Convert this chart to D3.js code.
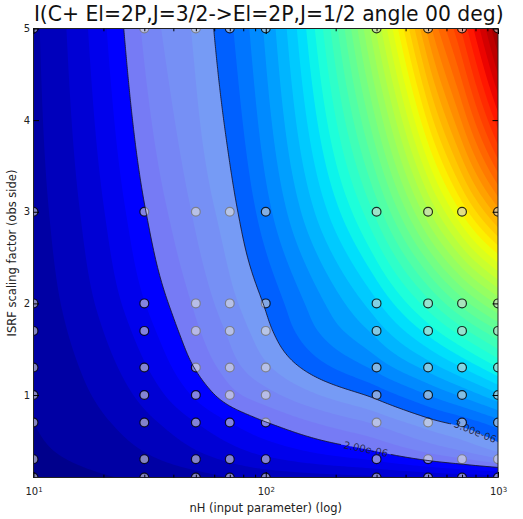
<!DOCTYPE html>
<html>
<head>
<meta charset="utf-8">
<script src="https://cdn.jsdelivr.net/npm/d3@7"></script>
<style>
body { margin: 0; background: #fff; }
text { font-family: "DejaVu Sans", sans-serif; }
</style>
</head>
<body>
<script>
/* sample grid of the model runs */
var nH = [10, 30, 50, 70, 100, 300, 500, 700, 1000];
var scaling = [0.1, 0.3, 0.7, 1, 1.3, 1.7, 2, 3, 5];

/* line intensity (units of 1e-6), one row per scaling value, nH left to right */
var row01 = [0.65, 0.80, 0.90, 1.00, 1.08, 1.20, 1.27, 1.32, 1.35];
var row03 = [0.70, 0.95, 1.15, 1.30, 1.45, 1.80, 2.05, 2.22, 2.46];
var row07 = [0.75, 1.17, 1.50, 1.75, 1.99, 2.55, 2.90, 3.10, 3.40];
var row10 = [0.78, 1.33, 1.80, 2.15, 2.40, 3.08, 3.50, 3.80, 4.20];
var row13 = [0.80, 1.47, 2.02, 2.38, 2.70, 3.58, 4.10, 4.50, 5.00];
var row17 = [0.83, 1.63, 2.20, 2.55, 2.92, 4.10, 4.85, 5.40, 6.00];
var row20 = [0.85, 1.74, 2.30, 2.66, 3.03, 4.45, 5.40, 6.10, 6.80];
var row30 = [0.90, 1.98, 2.55, 2.90, 3.40, 5.60, 7.20, 8.30, 9.40];
var row50 = [0.95, 2.30, 2.80, 3.20, 3.80, 7.30, 9.60, 10.80, 12.30];

/* highlighted band and its labelled contour lines */
var bandLevels = [2, 3];
var bandLabels = ["2.00e-06", "3.00e-06"];

var xMajor = [10, 100, 1000];
var xMinor = [20, 30, 40, 50, 60, 70, 80, 90, 200, 300, 400, 500, 600, 700, 800, 900];
var yMajor = [1, 2, 3, 4, 5];

var rows = [row01, row03, row07, row10, row13, row17, row20, row30, row50];

/* layout */
var width = 523, height = 519;
var pLeft = 33.5, pRight = 498, pTop = 28.5, pBottom = 477.5;

var svg = d3.select("body").append("svg")
    .attr("width", width)
    .attr("height", height);

var x = d3.scaleLog().domain([10, 1000]).range([pLeft, pRight]);
var y = d3.scaleLinear().domain([0.1, 5]).range([pBottom, pTop]);

/* matplotlib jet colormap */
var jetR = d3.scaleLinear().domain([0, 0.35, 0.66, 0.89, 1]).range([0, 0, 1, 1, 0.5]).clamp(true);
var jetG = d3.scaleLinear().domain([0, 0.125, 0.375, 0.64, 0.91, 1]).range([0, 0, 1, 1, 0, 0]).clamp(true);
var jetB = d3.scaleLinear().domain([0, 0.11, 0.34, 0.65, 1]).range([0.5, 1, 1, 0, 0]).clamp(true);
function jet(t) { return d3.rgb(jetR(t) * 255, jetG(t) * 255, jetB(t) * 255) + ""; }

var step = 0.25, lo = 0.5, hi = 12.5;
var levels = d3.range(lo, hi - step / 2, step);

/* smooth (monotone cubic) resampling of the grid for the contour surface */
function monotoneSlopes(xs, ys) {
    var n = xs.length, h = [], s = [], m = new Array(n);
    for (var k = 0; k < n - 1; k++) { h[k] = xs[k + 1] - xs[k]; s[k] = (ys[k + 1] - ys[k]) / h[k]; }
    for (var k = 1; k < n - 1; k++) {
        var p = (s[k - 1] * h[k] + s[k] * h[k - 1]) / (h[k - 1] + h[k]);
        m[k] = (Math.sign(s[k - 1]) + Math.sign(s[k])) *
            Math.min(Math.abs(s[k - 1]), Math.abs(s[k]), 0.5 * Math.abs(p)) || 0;
    }
    m[0] = (3 * s[0] - m[1]) / 2;
    m[n - 1] = (3 * s[n - 2] - m[n - 2]) / 2;
    return m;
}
function hermite(xs, ys, m, xv) {
    var k = Math.max(0, Math.min(xs.length - 2, d3.bisectRight(xs, xv) - 1));
    var h = xs[k + 1] - xs[k], t = (xv - xs[k]) / h, t2 = t * t, t3 = t2 * t;
    return (2 * t3 - 3 * t2 + 1) * ys[k] + (t3 - 2 * t2 + t) * h * m[k] +
        (-2 * t3 + 3 * t2) * ys[k + 1] + (t3 - t2) * h * m[k + 1];
}

var W = 233, H = 226;
var fx = d3.scaleLinear().domain([0, W - 1]).range([pLeft, pRight]);
var fy = d3.scaleLinear().domain([0, H - 1]).range([pTop, pBottom]);
var colN = d3.range(W).map(function(i) { return x.invert(fx(i)); });
var rowS = d3.range(H).map(function(j) { return y.invert(fy(j)); });
var alongN = rows.map(function(r) {
    var m = monotoneSlopes(nH, r);
    return colN.map(function(n) { return hermite(nH, r, m, n); });
});
var field = new Array(W * H);
for (var i = 0; i < W; i++) {
    var col = alongN.map(function(r) { return r[i]; });
    var mc = monotoneSlopes(scaling, col);
    for (var j = 0; j < H; j++) field[j * W + i] = hermite(scaling, col, mc, rowS[j]);
}

/* contour coordinates (sample i at i + 0.5) -> pixels */
var cx = d3.scaleLinear().domain([0.5, W - 0.5]).range([pLeft, pRight]).clamp(true);
var cy = d3.scaleLinear().domain([0.5, H - 0.5]).range([pTop, pBottom]).clamp(true);
function toPixel(c) { return [cx(c[0]), cy(c[1])]; }
function fmt(p) { return p[0].toFixed(2) + "," + p[1].toFixed(2); }
function ringPath(ring) { return "M" + ring.map(function(c) { return fmt(toPixel(c)); }).join("L") + "Z"; }
function multiPath(coords) {
    return coords.map(function(poly) { return poly.map(ringPath).join(""); }).join("");
}

var contours = d3.contours().size([W, H]);

/* clip everything inside the axes */
var defs = svg.append("defs");
defs.append("clipPath").attr("id", "plotclip")
    .append("rect")
    .attr("x", pLeft).attr("y", pTop)
    .attr("width", pRight - pLeft).attr("height", pBottom - pTop);

var plot = svg.append("g").attr("clip-path", "url(#plotclip)");

/* filled contours */
plot.append("g")
    .selectAll("path")
    .data(contours.thresholds(levels)(field))
    .join("path")
    .attr("d", function(d) { return multiPath(d.coordinates); })
    .attr("fill", function(d) { return jet((d.value + step / 2 - lo) / (hi - lo)); });

/* sample points */
plot.append("g")
    .selectAll("circle")
    .data(d3.cross(nH, scaling))
    .join("circle")
    .attr("cx", function(d) { return x(d[0]); })
    .attr("cy", function(d) { return y(d[1]); })
    .attr("r", 4.4)
    .attr("fill", "#d4d4d4")
    .attr("fill-opacity", 0.62)
    .attr("stroke", "#000")
    .attr("stroke-opacity", 0.8)
    .attr("stroke-width", 1.2);

/* translucent band between the two levels */
var bandGeo = contours.thresholds(bandLevels)(field);
plot.append("path")
    .attr("d", multiPath(bandGeo[0].coordinates) + multiPath(bandGeo[1].coordinates))
    .attr("fill-rule", "evenodd")
    .attr("fill", "#ececec")
    .attr("fill-opacity", 0.5);

/* contour lines, border pieces dropped */
function isBorder(p, q) {
    var e = 0.05;
    return (Math.abs(p[0] - pLeft) < e && Math.abs(q[0] - pLeft) < e) ||
        (Math.abs(p[0] - pRight) < e && Math.abs(q[0] - pRight) < e) ||
        (Math.abs(p[1] - pTop) < e && Math.abs(q[1] - pTop) < e) ||
        (Math.abs(p[1] - pBottom) < e && Math.abs(q[1] - pBottom) < e);
}
function contourLines(geo) {
    var lines = [];
    geo.coordinates.forEach(function(poly) {
        poly.forEach(function(ring) {
            var pts = ring.map(toPixel);
            var m = pts.length;
            if (m > 1 && ring[0][0] === ring[m - 1][0] && ring[0][1] === ring[m - 1][1]) m--;
            var start = 0;
            for (var i = 0; i < m; i++) {
                if (isBorder(pts[i], pts[(i + 1) % m])) { start = (i + 1) % m; break; }
            }
            var cur = [pts[start]];
            for (var k = 0; k < m; k++) {
                var a = pts[(start + k) % m], b = pts[(start + k + 1) % m];
                if (isBorder(a, b)) {
                    if (cur.length > 1) lines.push(cur);
                    cur = [b];
                } else {
                    cur.push(b);
                }
            }
            if (cur.length > 1) lines.push(cur);
        });
    });
    return lines;
}
function placeLabel(lines, tx) {
    var best = null;
    lines.forEach(function(line) {
        line.forEach(function(p, i) {
            var d = Math.abs(p[0] - tx);
            if (!best || d < best.d) best = { d: d, line: line, i: i };
        });
    });
    var line = best.line, i = best.i;
    var a = line[Math.max(0, i - 6)], b = line[Math.min(line.length - 1, i + 6)];
    var ang = Math.atan2(b[1] - a[1], b[0] - a[0]) * 180 / Math.PI;
    if (ang > 90) ang -= 180;
    if (ang < -90) ang += 180;
    return { x: line[i][0], y: line[i][1], angle: ang };
}

var labelTargets = [366, 475];
var mask = defs.append("mask").attr("id", "lblmask")
    .attr("maskUnits", "userSpaceOnUse")
    .attr("x", 0).attr("y", 0).attr("width", width).attr("height", height);
mask.append("rect").attr("x", 0).attr("y", 0).attr("width", width).attr("height", height).attr("fill", "#fff");

var lineGroup = plot.append("g").attr("mask", "url(#lblmask)");
var labelGroup = plot.append("g");

bandGeo.forEach(function(geo, k) {
    var lines = contourLines(geo);
    lineGroup.selectAll(null)
        .data(lines)
        .enter()
        .append("path")
        .attr("d", function(l) { return "M" + l.map(fmt).join("L"); })
        .attr("fill", "none")
        .attr("stroke", "#15152a")
        .attr("stroke-opacity", 0.85)
        .attr("stroke-width", 1);

    var pos = placeLabel(lines, labelTargets[k]);
    var lbl = labelGroup.append("text")
        .attr("transform", "translate(" + pos.x + "," + pos.y + ") rotate(" + pos.angle + ")")
        .attr("text-anchor", "middle")
        .attr("dy", "0.35em")
        .attr("font-size", "10px")
        .attr("fill", "#1c1c34")
        .attr("fill-opacity", 0.9)
        .text(bandLabels[k]);
    var w = lbl.node().getComputedTextLength() + 6;
    mask.append("rect")
        .attr("transform", "translate(" + pos.x + "," + pos.y + ") rotate(" + pos.angle + ")")
        .attr("x", -w / 2).attr("y", -6)
        .attr("width", w).attr("height", 12)
        .attr("fill", "#000");
});

/* axes frame */
svg.append("rect")
    .attr("x", pLeft).attr("y", pTop)
    .attr("width", pRight - pLeft).attr("height", pBottom - pTop)
    .attr("fill", "none")
    .attr("stroke", "#222")
    .attr("stroke-width", 1);

function styleAxis(g) {
    g.select(".domain").remove();
    g.selectAll(".tick line").attr("stroke", "#000");
    g.selectAll(".tick text").attr("font-family", "DejaVu Sans").attr("font-size", "10px").attr("fill", "#222");
}

/* x axis bottom (major with labels) */
var gxb = svg.append("g").attr("transform", "translate(0," + pBottom + ")")
    .call(d3.axisBottom(x).tickValues(xMajor).tickSizeInner(-5.5).tickSizeOuter(0).tickPadding(10.4)
        .tickFormat(function(d) { return d; }));
styleAxis(gxb);
gxb.selectAll(".tick text").each(function(d) {
    var t = d3.select(this).text("");
    t.append("tspan").text("10");
    t.append("tspan").attr("dy", "-0.45em").attr("font-size", "7px").text(Math.round(Math.log10(d)));
});
svg.append("g").attr("transform", "translate(0," + pBottom + ")")
    .call(d3.axisBottom(x).tickValues(xMinor).tickSizeInner(-2.8).tickSizeOuter(0).tickFormat(""))
    .call(styleAxis);

/* x axis top, ticks only */
svg.append("g").attr("transform", "translate(0," + pTop + ")")
    .call(d3.axisTop(x).tickValues(xMajor).tickSizeInner(-5.5).tickSizeOuter(0).tickFormat(""))
    .call(styleAxis);
svg.append("g").attr("transform", "translate(0," + pTop + ")")
    .call(d3.axisTop(x).tickValues(xMinor).tickSizeInner(-2.8).tickSizeOuter(0).tickFormat(""))
    .call(styleAxis);

/* y axes */
svg.append("g").attr("transform", "translate(" + pLeft + ",0)")
    .call(d3.axisLeft(y).tickValues(yMajor).tickSizeInner(-5.5).tickSizeOuter(0).tickPadding(3.5).tickFormat(d3.format("d")))
    .call(styleAxis);
svg.append("g").attr("transform", "translate(" + pRight + ",0)")
    .call(d3.axisRight(y).tickValues(yMajor).tickSizeInner(-5.5).tickSizeOuter(0).tickFormat(""))
    .call(styleAxis);

/* axis labels */
svg.append("text")
    .attr("x", (pLeft + pRight) / 2)
    .attr("y", 512)
    .attr("text-anchor", "middle")
    .attr("font-size", "11.5px")
    .attr("fill", "#222")
    .text("nH (input parameter) (log)");

svg.append("text")
    .attr("transform", "translate(15.5," + (pTop + pBottom) / 2 + ") rotate(-90)")
    .attr("text-anchor", "middle")
    .attr("font-size", "11.5px")
    .attr("fill", "#222")
    .text("ISRF scaling factor (obs side)");

/* title */
var title = svg.append("text")
    .attr("x", (pLeft + pRight) / 2 + 3)
    .attr("y", 20.5)
    .attr("text-anchor", "middle")
    .attr("font-size", "20px")
    .attr("fill", "#111")
    .text("I(C+ El=2P,J=3/2->El=2P,J=1/2 angle 00 deg)");
var tl = title.node().getComputedTextLength();
title.attr("font-size", (20 * 470 / tl).toFixed(2) + "px");
</script>
</body>
</html>
